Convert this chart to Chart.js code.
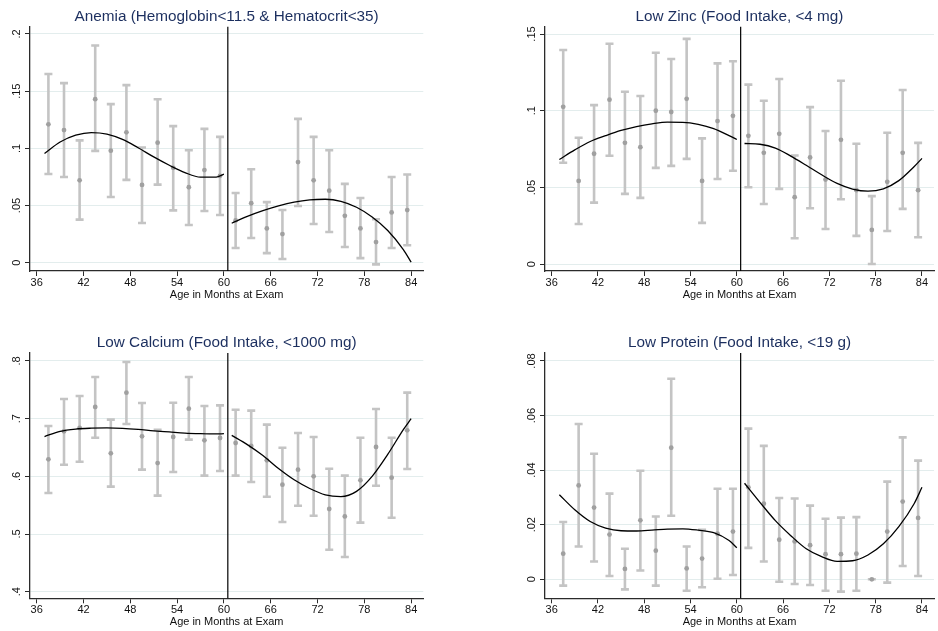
<!DOCTYPE html>
<html>
<head>
<meta charset="utf-8">
<script src="https://cdn.jsdelivr.net/npm/chart.js@4/dist/chart.umd.min.js"></script>
<style>
  html, body { margin: 0; padding: 0; background: #fff; }
  #wrap { position: relative; width: 938px; height: 631px; overflow: hidden; }
  canvas { position: absolute; }
</style>
</head>
<body>
<div id="wrap">
  <canvas id="anemia" width="469" height="315" style="left:0;top:0;width:469px;height:315px"></canvas>
  <canvas id="zinc" width="469" height="315" style="left:469px;top:0;width:469px;height:315px"></canvas>
  <canvas id="calcium" width="469" height="316" style="left:0;top:315px;width:469px;height:316px"></canvas>
  <canvas id="protein" width="469" height="316" style="left:469px;top:315px;width:469px;height:316px"></canvas>
</div>
<script>
// Two-month age bins (midpoints, months)
const months = [37.5, 39.5, 41.5, 43.5, 45.5, 47.5, 49.5, 51.5, 53.5, 55.5, 57.5, 59.5,
                61.5, 63.5, 65.5, 67.5, 69.5, 71.5, 73.5, 75.5, 77.5, 79.5, 81.5, 83.5];
// Ages at which the fitted polynomials are evaluated, either side of the 60-month cutoff
const fitMonthsLeft  = [37, 39, 41, 43, 45, 47, 49, 51, 53, 55, 57, 59, 60];
const fitMonthsRight = [61, 63, 65, 67, 69, 71, 73, 75, 77, 79, 81, 83, 84];
const cutoffMonth = 60.5;
const xTicks = [36, 42, 48, 54, 60, 66, 72, 78, 84];
const xTitle = 'Age in Months at Exam';

// Anemia
const anemiaTitle = 'Anemia (Hemoglobin<11.5 & Hematocrit<35)';
const anemiaTicks = [0, 0.05, 0.1, 0.15, 0.2];
const anemiaEst = [0.121, 0.116, 0.072, 0.143, 0.098, 0.114, 0.068, 0.105, 0.083, 0.066, 0.081, 0.076,
                   0.037, 0.052, 0.030, 0.025, 0.088, 0.072, 0.063, 0.041, 0.030, 0.018, 0.044, 0.046];
const anemiaLo  = [0.0776, 0.075, 0.0377, 0.0978, 0.0575, 0.0724, 0.0347, 0.0683, 0.0458, 0.033, 0.0452, 0.0417,
                   0.0128, 0.0216, 0.0084, 0.0032, 0.0496, 0.0338, 0.0268, 0.0137, 0.004, -0.0015, 0.0128, 0.0152];
const anemiaHi  = [0.165, 0.157, 0.107, 0.19, 0.1387, 0.1553, 0.1007, 0.143, 0.1194, 0.0984, 0.117, 0.110,
                   0.061, 0.0817, 0.053, 0.0461, 0.1258, 0.110, 0.0984, 0.0689, 0.0566, 0.038, 0.075, 0.0771];
const anemiaFitLeft  = [0.0955, 0.1055, 0.1115, 0.1138, 0.1125, 0.1078, 0.1005, 0.0925, 0.0852, 0.0788, 0.0748, 0.0748, 0.0774];
const anemiaFitRight = [0.0345, 0.0405, 0.0455, 0.0497, 0.0530, 0.0550, 0.0555, 0.0537, 0.0485, 0.0400, 0.0282, 0.0115, 0.0005];

// Zinc
const zincTitle = 'Low Zinc (Food Intake, <4 mg)';
const zincTicks = [0, 0.05, 0.1, 0.15];
const zincEst = [0.1026, 0.0543, 0.072, 0.1072, 0.0791, 0.0763, 0.100, 0.0992, 0.1078, 0.0543, 0.0933, 0.0967,
                 0.0837, 0.0726, 0.085, 0.0437, 0.0696, 0.0552, 0.0811, 0.0483, 0.0224, 0.0537, 0.0726, 0.0483];
const zincLo  = [0.0661, 0.0263, 0.0402, 0.0707, 0.0459, 0.0433, 0.0628, 0.0641, 0.0687, 0.027, 0.0556, 0.0609,
                 0.0502, 0.0393, 0.0491, 0.017, 0.0365, 0.023, 0.0424, 0.0185, 0.0002, 0.0217, 0.0361, 0.0176];
const zincHi  = [0.1396, 0.0824, 0.1037, 0.1437, 0.1124, 0.1096, 0.1378, 0.1337, 0.1468, 0.082, 0.1309, 0.1323,
                 0.117, 0.1065, 0.1207, 0.0709, 0.1024, 0.0868, 0.1196, 0.0785, 0.0444, 0.0857, 0.1135, 0.0791];
const zincFitLeft  = [0.0683, 0.0745, 0.0800, 0.0838, 0.0872, 0.0897, 0.0915, 0.0926, 0.0925, 0.0912, 0.0884, 0.0838, 0.0813];
const zincFitRight = [0.0787, 0.0782, 0.0757, 0.0705, 0.0645, 0.0583, 0.0527, 0.0490, 0.0476, 0.0492, 0.0545, 0.0637, 0.0690];

// Calcium
const calciumTitle = 'Low Calcium (Food Intake, <1000 mg)';
const calciumTicks = [0.4, 0.5, 0.6, 0.7, 0.8];
const calciumEst = [0.6295, 0.678, 0.6838, 0.7202, 0.6399, 0.7451, 0.6694, 0.6231, 0.6682, 0.7173, 0.6624, 0.6665,
                    0.6578, 0.6526, 0.6277, 0.5855, 0.6116, 0.600, 0.5434, 0.5306, 0.5931, 0.6509, 0.5977, 0.6798];
const calciumLo  = [0.5711, 0.620, 0.6254, 0.667, 0.5821, 0.6908, 0.6116, 0.5665, 0.6075, 0.6636, 0.6012, 0.6092,
                    0.6012, 0.5902, 0.5647, 0.5208, 0.5491, 0.5318, 0.4728, 0.4601, 0.5197, 0.5838, 0.5283, 0.6127];
const calciumHi  = [0.6873, 0.734, 0.7393, 0.7723, 0.6983, 0.7983, 0.7272, 0.6809, 0.7277, 0.7723, 0.722, 0.7231,
                    0.7156, 0.7139, 0.6896, 0.6497, 0.6751, 0.6682, 0.6133, 0.6012, 0.667, 0.7168, 0.667, 0.7451];
const calciumFitLeft  = [0.669, 0.678, 0.682, 0.6835, 0.684, 0.6833, 0.6815, 0.679, 0.677, 0.675, 0.674, 0.6735, 0.674];
const calciumFitRight = [0.671, 0.655, 0.636, 0.6135, 0.594, 0.579, 0.568, 0.565, 0.574, 0.600, 0.638, 0.681, 0.700];

// Protein
const proteinTitle = 'Low Protein (Food Intake, <19 g)';
const proteinTicks = [0, 0.02, 0.04, 0.06, 0.08];
const proteinEst = [0.0094, 0.0344, 0.0263, 0.0164, 0.0038, 0.0216, 0.0105, 0.0482, 0.004, 0.0076, 0.0167, 0.0175,
                    0.0337, 0.0277, 0.0145, 0.0139, 0.0125, 0.0092, 0.0092, 0.0094, 0.0, 0.0175, 0.0285, 0.0225];
const proteinLo  = [-0.0023, 0.012, 0.0065, 0.0012, -0.0037, 0.0032, -0.0023, 0.0233, -0.0042, -0.0029, 0.0002, 0.0016,
                    0.0115, 0.0065, -0.0009, -0.0017, -0.0021, -0.0042, -0.0045, -0.0042, 0.0, -0.0012, 0.0049, 0.0012];
const proteinHi  = [0.021, 0.0569, 0.046, 0.0314, 0.0112, 0.0398, 0.023, 0.0735, 0.012, 0.0181, 0.0332, 0.0332,
                    0.0552, 0.0489, 0.0298, 0.0296, 0.027, 0.0222, 0.0226, 0.0228, 0.0, 0.0358, 0.052, 0.0435];
const proteinFitLeft  = [0.0310, 0.0255, 0.0212, 0.0188, 0.0178, 0.0177, 0.0180, 0.0184, 0.0185, 0.0180, 0.0171, 0.0142, 0.0116];
const proteinFitRight = [0.0352, 0.0282, 0.0215, 0.0160, 0.0112, 0.0083, 0.0066, 0.0068, 0.0089, 0.0130, 0.0193, 0.0278, 0.0337];

const FONT = '"Liberation Sans", Arial, Helvetica, sans-serif';
const AXIS_COLOR = '#2b2b2b';

// Stata-style tick labels: 0, .05, .1 ...
function fmtTick(v) {
  if (v === 0) return '0';
  return String(v).replace(/^0\./, '.').replace(/^-0\./, '-.');
}

function buildPanel(canvasId, p) {
  const decor = {
    id: 'panelDecor',
    beforeDatasetsDraw(chart) {
      const { ctx, scales: { x, y } } = chart;
      ctx.save();
      ctx.strokeStyle = '#c4c4c4';
      ctx.lineWidth = 2.6;
      months.forEach((m, i) => {
        const px = x.getPixelForValue(m);
        const top = y.getPixelForValue(p.hi[i]);
        const bot = y.getPixelForValue(p.lo[i]);
        ctx.beginPath();
        ctx.moveTo(px, top); ctx.lineTo(px, bot);
        ctx.moveTo(px - 4, top); ctx.lineTo(px + 4, top);
        ctx.moveTo(px - 4, bot); ctx.lineTo(px + 4, bot);
        ctx.stroke();
      });
      ctx.restore();
    },
    afterDatasetsDraw(chart) {
      const { ctx, chartArea, scales: { x } } = chart;
      const cx = x.getPixelForValue(cutoffMonth);
      ctx.save();
      ctx.strokeStyle = '#000';
      ctx.lineWidth = 1.2;
      ctx.beginPath();
      ctx.moveTo(cx, chartArea.top);
      ctx.lineTo(cx, chartArea.bottom);
      ctx.stroke();
      ctx.restore();
    },
    afterDraw(chart) {
      const { ctx, chartArea, scales: { x, y } } = chart;
      const midX = (chartArea.left + chartArea.right) / 2;
      ctx.save();
      // panel title
      ctx.font = '15.3px ' + FONT;
      ctx.fillStyle = '#1c2f5f';
      ctx.textAlign = 'center';
      ctx.textBaseline = 'middle';
      ctx.fillText(p.title, midX, chartArea.top - 10);
      // y tick labels, rotated
      ctx.font = '11px ' + FONT;
      ctx.fillStyle = '#111';
      p.yTicks.forEach(v => {
        ctx.save();
        ctx.translate(chartArea.left - 13, y.getPixelForValue(v));
        ctx.rotate(-Math.PI / 2);
        ctx.fillText(fmtTick(v), 0, 0);
        ctx.restore();
      });
      // x tick labels
      xTicks.forEach(v => {
        ctx.fillText(String(v), x.getPixelForValue(v), chartArea.bottom + 12);
      });
      // x axis title
      ctx.fillText(xTitle, midX, chartArea.bottom + 24);
      ctx.restore();
    }
  };

  new Chart(document.getElementById(canvasId), {
    type: 'line',
    data: {
      datasets: [
        {
          data: fitMonthsLeft.map((m, i) => ({ x: m, y: p.fitL[i] })),
          borderColor: '#000', borderWidth: 1.3, pointRadius: 0,
          cubicInterpolationMode: 'monotone', fill: false
        },
        {
          data: fitMonthsRight.map((m, i) => ({ x: m, y: p.fitR[i] })),
          borderColor: '#000', borderWidth: 1.3, pointRadius: 0,
          cubicInterpolationMode: 'monotone', fill: false
        },
        {
          data: months.map((m, i) => ({ x: m, y: p.est[i] })),
          showLine: false, pointRadius: 2.4, pointBorderWidth: 0,
          pointBackgroundColor: '#a0a0a0', pointBorderColor: '#a0a0a0'
        }
      ]
    },
    options: {
      responsive: false,
      animation: false,
      events: [],
      layout: { padding: p.pad },
      plugins: { legend: { display: false }, tooltip: { enabled: false }, title: { display: false } },
      scales: {
        x: {
          type: 'linear', min: 35.14, max: 85.56,
          afterBuildTicks: s => { s.ticks = xTicks.map(v => ({ value: v })); },
          afterFit: s => { s.height = 30; },
          ticks: { display: false },
          grid: { drawOnChartArea: false, drawTicks: true, tickLength: 5, tickColor: AXIS_COLOR, tickWidth: 1 },
          border: { display: true, color: AXIS_COLOR, width: 1.3 }
        },
        y: {
          type: 'linear', min: p.yMin, max: p.yMax,
          afterBuildTicks: s => { s.ticks = p.yTicks.map(v => ({ value: v })); },
          afterFit: s => { s.width = 30; },
          ticks: { display: false },
          grid: { color: '#e3eded', lineWidth: 1, drawTicks: true, tickLength: 5, tickColor: AXIS_COLOR, tickWidth: 1 },
          border: { display: true, color: AXIS_COLOR, width: 1.3 }
        }
      }
    },
    plugins: [decor]
  });
}

buildPanel('anemia', {
  title: anemiaTitle, yTicks: anemiaTicks, yMin: -0.00726, yMax: 0.20638,
  est: anemiaEst, lo: anemiaLo, hi: anemiaHi, fitL: anemiaFitLeft, fitR: anemiaFitRight,
  pad: { left: 0, top: 26.7, right: 45.7, bottom: 14 }
});
buildPanel('zinc', {
  title: zincTitle, yTicks: zincTicks, yMin: -0.00436, yMax: 0.15476,
  est: zincEst, lo: zincLo, hi: zincHi, fitL: zincFitLeft, fitR: zincFitRight,
  pad: { left: 46, top: 26.7, right: 0, bottom: 14 }
});
buildPanel('calcium', {
  title: calciumTitle, yTicks: calciumTicks, yMin: 0.38856, yMax: 0.81387,
  est: calciumEst, lo: calciumLo, hi: calciumHi, fitL: calciumFitLeft, fitR: calciumFitRight,
  pad: { left: 0, top: 38, right: 45.7, bottom: 2.7 }
});
buildPanel('protein', {
  title: proteinTitle, yTicks: proteinTicks, yMin: -0.00696, yMax: 0.08293,
  est: proteinEst, lo: proteinLo, hi: proteinHi, fitL: proteinFitLeft, fitR: proteinFitRight,
  pad: { left: 46, top: 38, right: 0, bottom: 2.7 }
});
</script>
</body>
</html>
